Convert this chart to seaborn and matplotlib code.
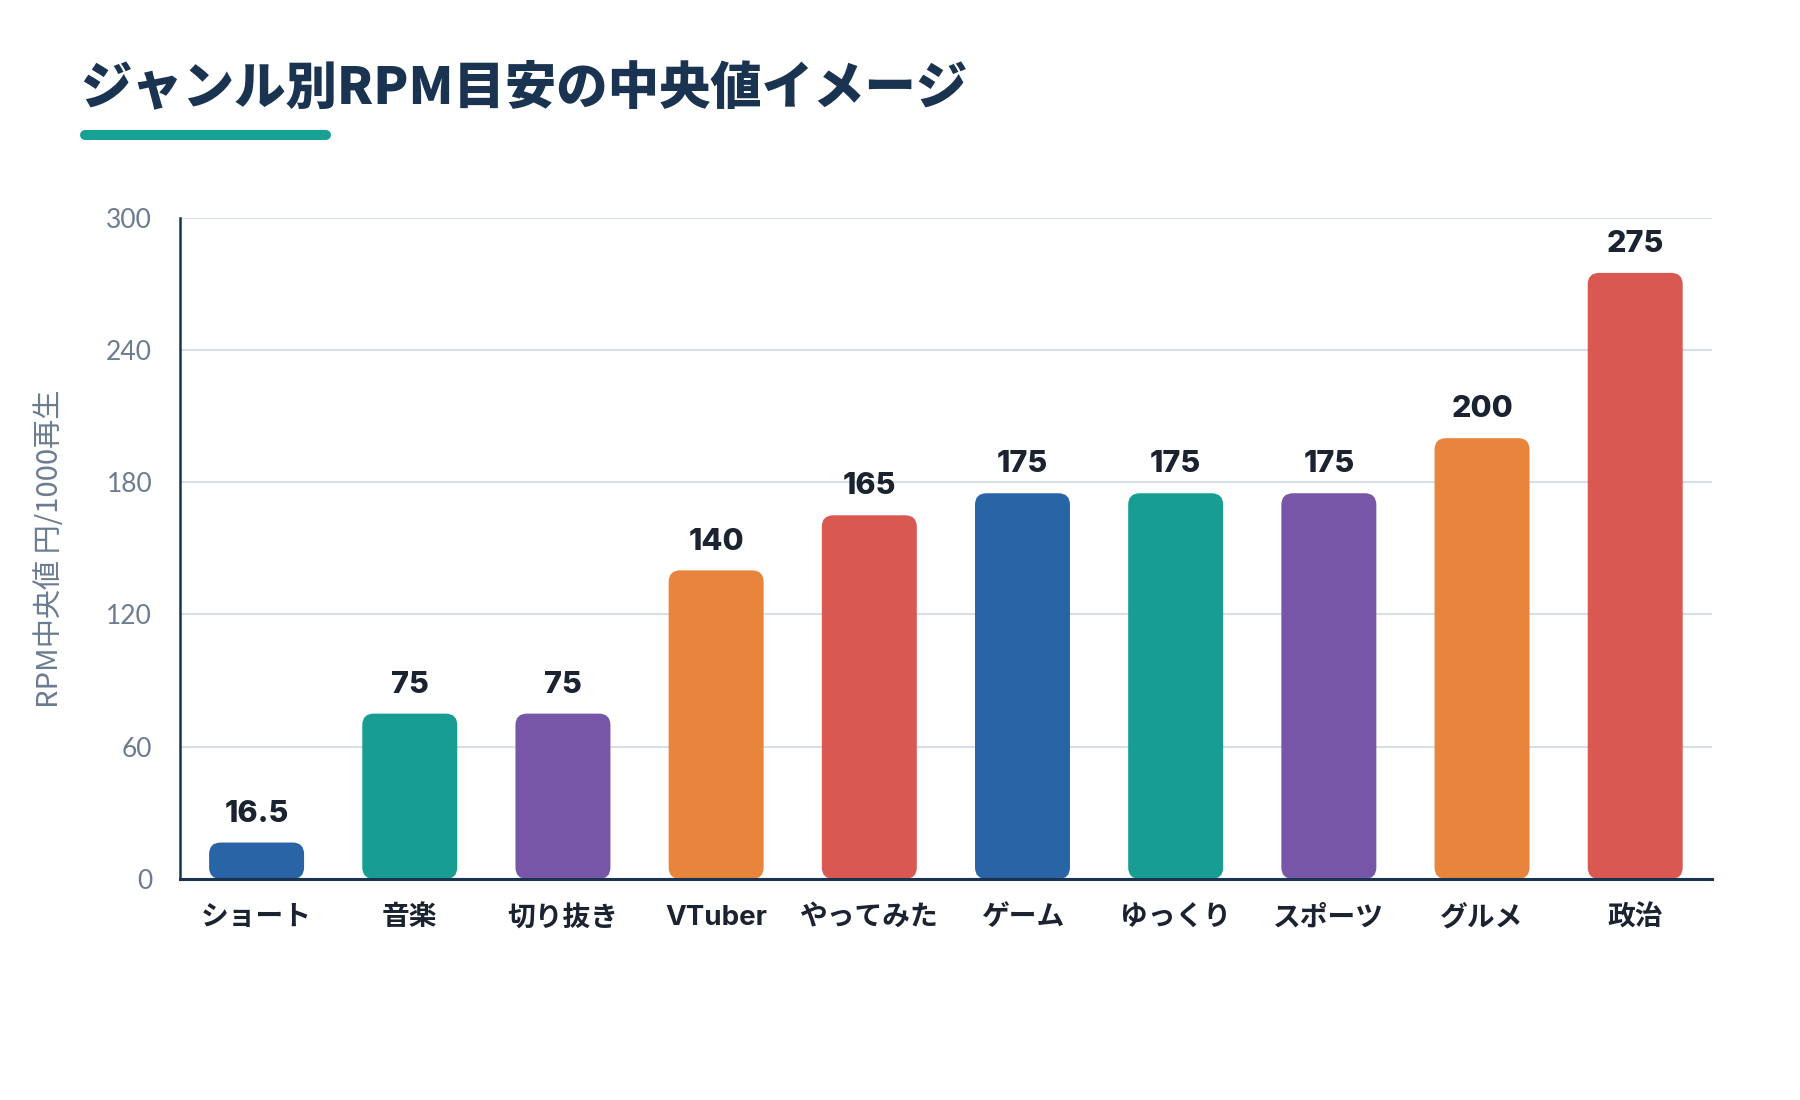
import numpy as np
import pandas as pd
import matplotlib
matplotlib.use("Agg")
from matplotlib import pyplot as plt
from matplotlib.patches import FancyBboxPatch
from matplotlib.lines import Line2D
import seaborn as sns

# data
genres = ['ショート', '音楽', '切り抜き', 'VTuber', 'やってみた',
          'ゲーム', 'ゆっくり', 'スポーツ', 'グルメ', '政治']
rpm_median = [16.5, 75, 75, 140, 165, 175, 175, 175, 200, 275]
value_labels = ['16.5', '75', '75', '140', '165', '175', '175', '175', '200', '275']
y_ticks = [0, 60, 120, 180, 240, 300]

bar_colors = ['#2864A6', '#189D93', '#7856A7', '#E8843B', '#D95851',
              '#2864A6', '#189D93', '#7856A7', '#E8843B', '#D95851']

navy = '#1A3350'
grey = '#6B7C92'
grid_col = '#D6DFE8'
dark = '#1B2230'

sns.set_theme(style='white')
plt.rcParams['font.family'] = ['Noto Sans CJK JP', 'DejaVu Sans']

df = pd.DataFrame({'genre': genres, 'rpm': rpm_median})

fig = plt.figure(figsize=(18, 11), dpi=100)
ax = fig.add_axes([0.100, 0.201, 0.851, 0.601])

sns.barplot(data=df, x='genre', y='rpm', hue='genre', palette=bar_colors,
            legend=False, width=0.62, saturation=1, ax=ax, zorder=3)

ax.set_ylim(0, 300)
ax.set_xlim(-0.5, len(genres) - 0.5)
ax.set_yticks(y_ticks)
ax.set_yticklabels([str(t) for t in y_ticks], family=['Lato', 'DejaVu Sans'],
                   fontweight='normal', fontsize=19, color=grey)
ax.set_xticks(range(len(genres)))
ax.set_xticklabels(genres, fontsize=20, fontweight='bold', color=dark,
                   family=['Inter', 'Noto Sans CJK JP'])
ax.tick_params(axis='y', length=0, pad=20)
ax.tick_params(axis='x', length=0, pad=19)
ax.set_xlabel('')
ax.set_ylabel('RPM中央値 円/1000再生', fontsize=21, color=grey, fontweight='normal')
ax.yaxis.set_label_coords(-0.075, 0.5)

ax.grid(axis='y', color=grid_col, linewidth=1.5, zorder=0)
ax.set_axisbelow(True)
for s in ['top', 'right']:
    ax.spines[s].set_visible(False)
ax.spines['left'].set_color(navy)
ax.spines['left'].set_linewidth(1.8)
ax.spines['bottom'].set_color(navy)
ax.spines['bottom'].set_linewidth(2.2)
ax.spines['left'].set_zorder(5)
ax.spines['bottom'].set_zorder(5)

# swap plain bars for rounded ones
fig.canvas.draw()
p0 = ax.transData.transform((0, 0))
p1 = ax.transData.transform((1, 1))
px_x = p1[0] - p0[0]
px_y = p1[1] - p0[1]
radius_px = 11.5
rx = radius_px / px_x
aspect = px_x / px_y

for patch in list(ax.patches):
    x, y = patch.get_x(), patch.get_y()
    w, h = patch.get_width(), patch.get_height()
    fc = patch.get_facecolor()
    patch.remove()
    rb = FancyBboxPatch((x, y), w, h,
                        boxstyle=f'round,pad=0,rounding_size={rx}',
                        mutation_aspect=aspect, facecolor=fc,
                        edgecolor='none', zorder=3)
    ax.add_patch(rb)

for i, (v, lab) in enumerate(zip(rpm_median, value_labels)):
    ax.annotate(lab, (i, v), xytext=(0, 15), textcoords='offset points',
                ha='center', va='baseline', fontsize=22, fontweight='heavy',
                color=dark, family=['Inter', 'DejaVu Sans'], zorder=6)

# title and accent underline
fig.text(0.0444, 0.9200, 'ジャンル別RPM目安の中央値イメージ', fontsize=37,
         fontweight='black', color=navy, ha='left', va='center')
fig.add_artist(Line2D([85 / 1800, 326 / 1800], [1 - 135 / 1100, 1 - 135 / 1100],
                      transform=fig.transFigure, color='#17A094', linewidth=7.2,
                      solid_capstyle='round'))

fig.savefig('out.png', dpi=100, facecolor='white')
